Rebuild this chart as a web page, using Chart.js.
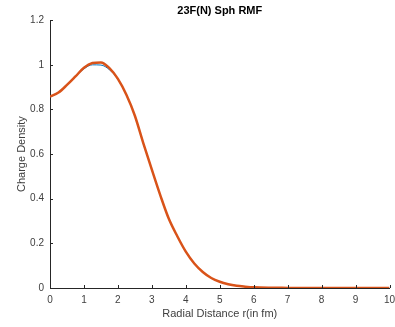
<!DOCTYPE html>
<html>
<head>
<meta charset="utf-8">
<script src="https://cdn.jsdelivr.net/npm/chart.js@4/dist/chart.umd.min.js"></script>
<style>
html,body{margin:0;padding:0;background:#fff;}
#wrap{width:395px;height:327px;position:relative;}
</style>
</head>
<body>
<div id="wrap"><canvas id="c" width="395" height="327"></canvas></div>
<script>
const radius = [0,0.25,0.5,0.75,1,1.25,1.5,1.75,2,2.25,2.5,2.75,3,3.25,3.5,3.75,4,4.25,4.5,4.75,5,5.25,5.5,5.75,6,6.5,7,7.5,8,8.5,9,9.5,10];
const densityBlue = [0.856,0.876,0.910,0.947,0.982,1.000,0.999,0.978,0.935,0.864,0.772,0.648,0.530,0.415,0.310,0.232,0.163,0.110,0.072,0.045,0.028,0.017,0.010,0.006,0.003,0.001,0.0005,0,0,0,0,0,0];
const densityOrange = [0.858,0.876,0.910,0.948,0.987,1.008,1.011,0.985,0.937,0.866,0.772,0.648,0.530,0.415,0.310,0.232,0.163,0.110,0.072,0.045,0.028,0.017,0.010,0.006,0.003,0.001,0.0005,0,0,0,0,0,0];
const xTicks = [0,1,2,3,4,5,6,7,8,9,10];
const yTicks = [0,0.2,0.4,0.6,0.8,1,1.2];
const titleText = '23F(N) Sph RMF';
const xLabel = 'Radial Distance r(in fm)';
const yLabel = 'Charge Density';

const toPts = ys => radius.map((x,i)=>({x:x,y:ys[i]}));
const axisColor = '#262626';
const tickColor = '#404040';
const FONT = '"Liberation Sans", Arial, Helvetica, sans-serif';

const innerTicks = {
  id:'innerTicks',
  afterDraw(chart){
    const {ctx, chartArea:a, scales:{x,y}} = chart;
    ctx.save();
    ctx.strokeStyle = axisColor;
    ctx.lineWidth = 1;
    ctx.beginPath();
    xTicks.forEach(v=>{
      const px = Math.round(x.getPixelForValue(v))+0.5;
      ctx.moveTo(px, a.bottom); ctx.lineTo(px, a.bottom-3);
    });
    yTicks.forEach(v=>{
      const py = Math.round(y.getPixelForValue(v))+0.5;
      ctx.moveTo(a.left, py); ctx.lineTo(a.left+3, py);
    });
    ctx.stroke();
    ctx.restore();
  }
};

new Chart(document.getElementById('c'), {
  type:'line',
  data:{
    datasets:[
      {data:toPts(densityBlue), borderColor:'#0072BD', borderWidth:1, pointRadius:0, cubicInterpolationMode:'monotone', fill:false, order:1},
      {data:toPts(densityOrange), borderColor:'#D95319', borderWidth:2.5, pointRadius:0, cubicInterpolationMode:'monotone', fill:false, order:0}
    ]
  },
  options:{
    responsive:false,
    animation:false,
    devicePixelRatio:1,
    layout:{padding:{left:0,right:0,top:0,bottom:0}},
    plugins:{
      legend:{display:false},
      tooltip:{enabled:false},
      title:{display:true, text:titleText, fullSize:false, color:'#000', font:{family:FONT, size:11, weight:'bold'}, padding:{top:4,bottom:3}}
    },
    scales:{
      x:{
        type:'linear', min:0, max:10,
        afterBuildTicks(s){ s.ticks = xTicks.map(v=>({value:v})); },
        afterFit(s){ s.height = 39; s.paddingLeft = 0; s.paddingRight = 5.5; },
        grid:{display:true, drawOnChartArea:false, drawTicks:false},
        border:{display:true, color:axisColor, width:1},
        ticks:{color:tickColor, font:{family:FONT, size:10}, padding:6, maxRotation:0, autoSkip:false},
        title:{display:true, text:xLabel, color:tickColor, font:{family:FONT, size:11}, padding:{top:0,bottom:6}}
      },
      y:{
        type:'linear', min:0, max:1.2,
        afterBuildTicks(s){ s.ticks = yTicks.map(v=>({value:v})); },
        afterFit(s){ s.width = 50; },
        grid:{display:true, drawOnChartArea:false, drawTicks:false},
        border:{display:true, color:axisColor, width:1},
        ticks:{color:tickColor, font:{family:FONT, size:10}, padding:6, autoSkip:false, callback:v=>String(Math.round(v*10)/10)},
        title:{display:true, text:yLabel, color:tickColor, font:{family:FONT, size:11}, padding:{top:15,bottom:0}}
      }
    }
  },
  plugins:[innerTicks]
});
</script>
</body>
</html>
